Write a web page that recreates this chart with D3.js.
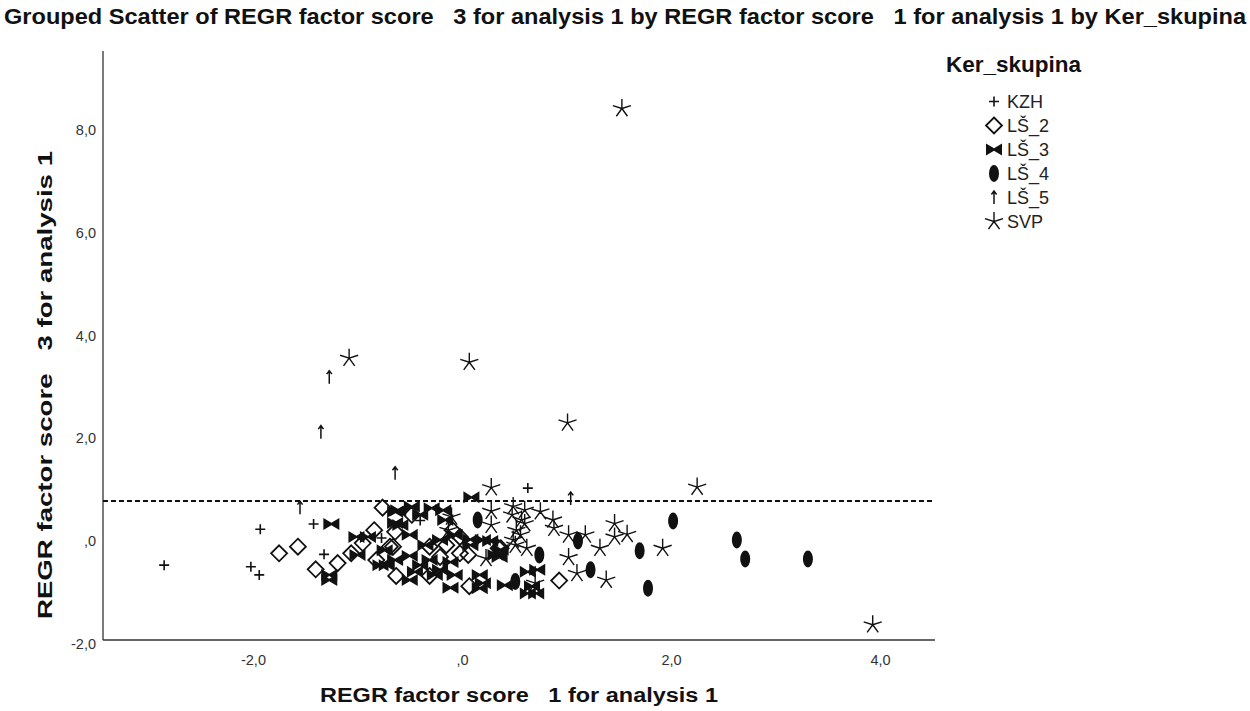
<!DOCTYPE html>
<html><head><meta charset="utf-8">
<script src="https://cdn.jsdelivr.net/npm/d3@7"></script>
<style>body{margin:0;background:#fff}svg{display:block}</style>
</head><body>
<svg id="c" width="1250" height="711"></svg>
<script>
// ---- data ----
const categories = ["KZH", "LŠ_2", "LŠ_3", "LŠ_4", "LŠ_5", "SVP"];
const xTicks = [-2, 0, 2, 4];
const yTicks = [-2, 0, 2, 4, 6, 8];
const refLineY = 0.78;

const KZH = [[-2.85,-0.47],[-1.93,0.23],[-2.02,-0.50],[-1.94,-0.66],[-1.42,0.33],[-1.32,-0.26],[-0.77,0.06],[0.63,1.03],[-0.40,0.40]];
const LS2 = [[-1.75,-0.24],[-1.57,-0.11],[-1.40,-0.55],[-1.19,-0.43],[-0.76,0.65],[-0.84,0.21],[-1.06,-0.24],[-0.95,-0.04],[-0.82,-0.37],[-0.63,-0.68],[-0.66,-0.11],[-0.31,-0.68],[0.07,-0.88],[0.35,-0.14],[-0.02,0.08],[0.93,-0.77],[-0.64,0.18],[-0.69,-0.11],[-0.48,0.51],[-0.31,-0.11],[-0.15,-0.08],[-0.09,0.21],[-0.02,-0.24],[0.06,-0.27],[-0.21,-0.31],[0.37,-0.14]];
const LS3 = [[-1.25,0.33],[-1.27,-0.66],[-1.27,-0.76],[-0.64,0.57],[-1.01,0.08],[-0.90,0.08],[-1.00,-0.27],[-0.72,-0.47],[-0.64,0.35],[0.09,0.85],[-0.11,-0.91],[0.17,-0.92],[0.17,-0.66],[0.41,-0.86],[0.63,-1.02],[0.71,-1.02],[0.63,-0.60],[0.36,-0.31],[0.20,0.02],[0.08,0.03],[-0.29,0.64],[-0.18,0.60],[-0.48,0.67],[-0.61,0.60],[0.37,-0.17],[0.20,-0.82],[0.72,-0.56],[0.67,-0.88],[-0.78,-0.47],[-0.64,-0.37],[-0.50,-0.29],[-0.40,-0.47],[-0.31,-0.37],[-0.21,-0.56],[-0.11,-0.41],[-0.45,-0.60],[-0.26,-0.66],[-0.07,-0.66],[-0.35,-0.08],[-0.21,0.02],[-0.50,0.12],[-0.59,0.31],[-0.16,0.41],[-0.40,0.51],[-0.07,0.12],[-0.74,-0.18],[0.08,-0.08],[0.27,0.00],[0.32,-0.27],[-0.50,-0.76]];
const LS4 = [[0.15,0.41],[0.74,-0.27],[0.51,-0.79],[1.11,0.00],[1.23,-0.56],[1.70,-0.19],[1.78,-0.92],[2.02,0.39],[2.63,0.02],[2.71,-0.35],[3.31,-0.35]];
const LS5 = [[-1.27,3.19],[-1.35,2.12],[-0.64,1.32],[-1.55,0.65],[1.04,0.83]];
const SVP = [[1.53,8.42],[-1.08,3.56],[0.07,3.48],[1.01,2.30],[2.25,1.05],[3.93,-1.63],[0.28,1.04],[0.49,0.67],[0.28,0.58],[0.60,0.60],[0.75,0.57],[0.87,0.41],[0.88,0.25],[0.28,0.31],[-0.10,0.47],[-0.13,0.21],[1.02,-0.32],[1.10,-0.63],[1.18,0.12],[1.02,0.12],[1.32,-0.14],[1.46,0.34],[1.46,0.08],[1.58,0.13],[1.38,-0.76],[1.92,-0.14],[0.62,-0.14],[0.23,-0.34],[0.70,-0.82],[0.57,0.41],[0.60,0.34],[0.52,0.21],[0.56,0.12],[0.49,0.02],[0.51,-0.08],[0.48,0.51]];

const seriesData = {"KZH":KZH, "LŠ_2":LS2, "LŠ_3":LS3, "LŠ_4":LS4, "LŠ_5":LS5, "SVP":SVP};

// ---- layout ----
const svg = d3.select("#c");
const L = 103, R = 935, T = 51, B = 640;
const x = d3.scaleLinear().domain([-3.435, 4.526]).range([L, R]);
const y = d3.scaleLinear().domain([-1.927, 9.54]).range([B, T]);

const fmt = v => v === 0 ? ",0" : d3.format(".1f")(v).replace(".", ",").replace("\u2212", "-");
const narrow = "'Liberation Sans Narrow','Arial Narrow','Liberation Sans',Arial,sans-serif";
const sans = "'Liberation Sans',Arial,sans-serif";

// symbols
function starPath(r){
  const angs = [-90, -18, -162, 54, 126];
  return angs.map(a => { const t = a*Math.PI/180; return `M0,0L${(r*Math.cos(t)).toFixed(2)},${(r*Math.sin(t)).toFixed(2)}`; }).join("");
}
const sym = {
  "KZH":  {d:"M-5,0H5M0,-5V5", fill:"none", stroke:"#111", sw:1.6},
  "LŠ_2": {d:"M0,-8L8,0L0,8L-8,0Z", fill:"none", stroke:"#111", sw:1.8},
  "LŠ_3": {d:"M-8,-6L0,-1.2L8,-6L8,6L0,1.2L-8,6Z", fill:"#111", stroke:"none", sw:0},
  "LŠ_4": {ellipse:true, rx:5, ry:8.5, fill:"#111", stroke:"none", sw:0},
  "LŠ_5": {d:"M0,6.5V-6M-2.6,-3L0,-6.5L2.6,-3", fill:"none", stroke:"#111", sw:1.5},
  "SVP":  {d:starPath(9.5), fill:"none", stroke:"#111", sw:1.4}
};
function drawSym(g, cat){
  const s = sym[cat];
  if (s.ellipse) g.append("ellipse").attr("rx", s.rx).attr("ry", s.ry).attr("fill", s.fill);
  else g.append("path").attr("d", s.d).attr("fill", s.fill).attr("stroke", s.stroke).attr("stroke-width", s.sw);
}

// title
svg.append("text").attr("x", 4).attr("y", 24)
  .attr("font-family", narrow)
  .attr("font-weight", "bold").attr("font-size", 22.5).attr("fill", "#111")
  .attr("textLength", 1242).attr("lengthAdjust", "spacingAndGlyphs")
  .style("white-space", "pre")
  .text("Grouped Scatter of REGR factor score   3 for analysis 1 by REGR factor score   1 for analysis 1 by Ker_skupina");

// axes
const xAxis = svg.append("g").attr("transform", `translate(0,${B})`)
  .call(d3.axisBottom(x).tickValues(xTicks).tickSize(0).tickSizeOuter(0).tickPadding(15).tickFormat(fmt));
const yAxis = svg.append("g").attr("transform", `translate(${L},0)`)
  .call(d3.axisLeft(y).tickValues(yTicks).tickSize(0).tickSizeOuter(0).tickPadding(7).tickFormat(fmt));
[xAxis, yAxis].forEach(a => {
  a.select(".domain").attr("stroke", "#333").attr("stroke-width", 1.3);
  a.selectAll("text").attr("font-family", sans).attr("font-size", 14.5).attr("fill", "#333");
});
xAxis.select(".domain").attr("d", `M${L},0H${R}`);
yAxis.select(".domain").attr("d", `M0,${T}V${B}`);

// reference line
svg.append("line").attr("x1", L).attr("x2", R - 2).attr("y1", y(refLineY)).attr("y2", y(refLineY))
  .attr("stroke", "#111").attr("stroke-width", 2).attr("stroke-dasharray", "5,3");

// axis titles
svg.append("text").attr("x", (L + R) / 2).attr("y", 702).attr("text-anchor", "middle")
  .attr("font-family", narrow)
  .attr("font-weight", "bold").attr("font-size", 20).attr("fill", "#111")
  .attr("textLength", 398).attr("lengthAdjust", "spacingAndGlyphs").style("white-space", "pre")
  .text("REGR factor score   1 for analysis 1");
svg.append("text").attr("transform", `translate(52,385) rotate(-90)`).attr("text-anchor", "middle")
  .attr("font-family", narrow)
  .attr("font-weight", "bold").attr("font-size", 20).attr("fill", "#111")
  .attr("textLength", 468).attr("lengthAdjust", "spacingAndGlyphs").style("white-space", "pre")
  .text("REGR factor score   3 for analysis 1");

// points
const plot = svg.append("g");
categories.forEach(cat => {
  plot.selectAll(null).data(seriesData[cat]).enter().append("g")
    .attr("transform", d => `translate(${x(d[0])},${y(d[1])})`)
    .each(function(){ drawSym(d3.select(this), cat); });
});

// legend
const lg = svg.append("g");
lg.append("text").attr("x", 946).attr("y", 72)
  .attr("font-family", sans).attr("font-weight", "bold")
  .attr("font-size", 22.5).attr("fill", "#111").text("Ker_skupina");
const ly = d3.scalePoint().domain(categories).range([101.5, 221.5]);
categories.forEach(cat => {
  const g = lg.append("g").attr("transform", `translate(994,${ly(cat)})`);
  drawSym(g, cat);
  lg.append("text").attr("x", 1007).attr("y", ly(cat)).attr("dy", "0.36em")
    .attr("font-family", sans).attr("font-size", 18).attr("fill", "#222").text(cat);
});
</script>
</body></html>
